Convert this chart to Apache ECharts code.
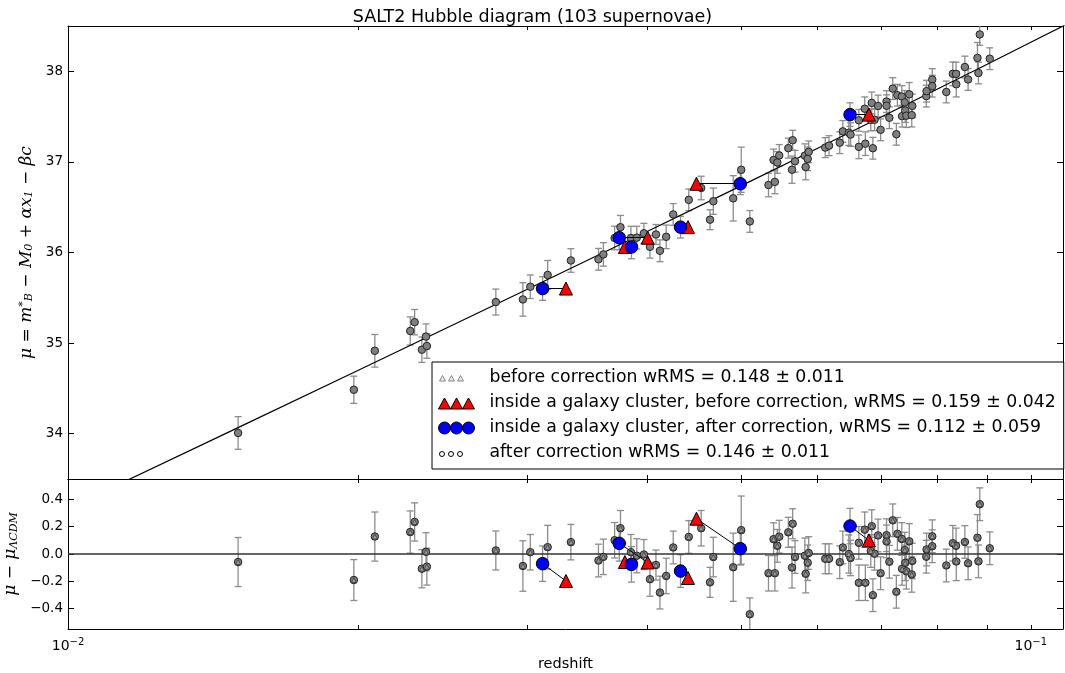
<!DOCTYPE html>
<html>
<head>
<meta charset="utf-8">
<script src="https://cdn.jsdelivr.net/npm/echarts@6/dist/echarts.min.js"></script>
<style>html,body{margin:0;padding:0;background:#fff}#c{width:1065px;height:673px}</style>
</head>
<body>
<div id="c"></div>
<script>
// ---------- data ----------
const titleText = 'SALT2 Hubble diagram (103 supernovae)';
const nameBefore = 'before correction wRMS = 0.148 \u00b1 0.011';
const nameClBefore = 'inside a galaxy cluster, before correction, wRMS = 0.159 \u00b1 0.042';
const nameClAfter = 'inside a galaxy cluster, after correction, wRMS = 0.112 \u00b1 0.059';
const nameAfter = 'after correction wRMS = 0.146 \u00b1 0.011';

// field supernovae: redshift, distance modulus, residual, error
const snZ = [0.01502,0.01981,0.02083,0.02267,0.02291,0.02331,0.02354,0.02359,0.02782,0.02968,0.03021,0.03149,0.03329,0.03556,0.03598,0.03696,0.03748,0.03843,0.03897,0.03964,0.04022,0.0408,0.04119,0.04181,0.04252,0.04413,0.04546,0.04643,0.0468,0.04908,0.05003,0.05107,0.0534,0.05405,0.05422,0.05454,0.05479,0.05599,0.05649,0.05658,0.0569,0.05825,0.05837,0.05865,0.05879,0.06116,0.06172,0.06332,0.06379,0.06471,0.06498,0.06628,0.06628,0.06722,0.06732,0.0682,0.06836,0.06854,0.06882,0.0694,0.06982,0.07082,0.07082,0.0713,0.07188,0.0725,0.07268,0.07345,0.0735,0.07397,0.07406,0.07426,0.07477,0.07522,0.07531,0.07788,0.07793,0.079,0.079,0.0817,0.08298,0.08367,0.08363,0.08541,0.08607,0.08802,0.08823,0.08851,0.09065];
const snMu = [34.008,34.485,34.915,35.134,35.231,34.927,35.072,34.968,35.453,35.482,35.622,35.752,35.912,35.925,35.979,36.160,36.279,36.159,36.164,36.212,36.063,36.199,36.019,36.173,36.420,36.581,36.712,36.362,36.566,36.598,36.913,36.343,36.745,37.021,36.779,36.994,37.071,37.152,36.914,37.239,37.007,37.069,36.943,37.034,37.111,37.158,37.179,37.212,37.337,37.322,37.302,37.459,37.166,37.587,37.201,37.464,37.651,37.151,37.465,37.617,37.354,37.666,37.620,37.487,37.809,37.305,37.736,37.721,37.505,37.657,37.566,37.510,37.746,37.516,37.618,37.726,37.781,37.909,37.836,37.772,37.972,37.857,37.971,38.047,37.910,38.148,37.981,38.407,38.139];
const snRes = [-0.059,-0.191,0.128,0.161,0.235,-0.108,0.016,-0.093,0.026,-0.088,0.013,0.050,0.087,-0.048,-0.021,0.101,0.189,0.013,-0.013,-0.004,-0.185,-0.081,-0.283,-0.161,0.048,0.125,0.189,-0.208,-0.022,-0.097,0.175,-0.442,-0.141,0.109,-0.141,0.060,0.127,0.159,-0.099,0.222,-0.022,-0.013,-0.145,-0.064,0.007,-0.035,-0.035,-0.060,0.048,0.000,-0.029,0.082,-0.211,0.178,-0.211,0.022,0.204,-0.302,0.002,0.136,-0.141,0.138,0.092,-0.057,0.247,-0.277,0.148,0.110,-0.109,0.029,-0.065,-0.127,0.093,-0.150,-0.051,-0.020,0.033,0.130,0.057,-0.084,0.079,-0.055,0.060,0.088,-0.068,0.119,-0.054,0.365,0.042];
const snErr = [0.18,0.15,0.18,0.155,0.14,0.14,0.14,0.135,0.143,0.185,0.13,0.16,0.13,0.12,0.13,0.13,0.13,0.13,0.125,0.11,0.125,0.11,0.12,0.13,0.12,0.12,0.13,0.11,0.145,0.25,0.25,0.12,0.13,0.12,0.13,0.12,0.12,0.11,0.15,0.11,0.12,0.13,0.14,0.13,0.12,0.11,0.11,0.12,0.12,0.14,0.13,0.12,0.13,0.13,0.13,0.12,0.12,0.12,0.12,0.12,0.12,0.12,0.12,0.12,0.12,0.12,0.12,0.12,0.12,0.13,0.13,0.13,0.13,0.13,0.13,0.12,0.12,0.12,0.12,0.12,0.13,0.14,0.13,0.12,0.12,0.17,0.12,0.12,0.12];

// supernovae inside galaxy clusters (before = SN redshift, after = cluster redshift)
const clZBefore = [0.0329,0.0400,0.03788,0.04405,0.04495,0.06789];
const clZAfter = [0.03111,0.03737,0.03848,0.04327,0.04992,0.0649];
const clMu = [35.602,36.163,36.061,36.280,36.759,37.522];
const clResBefore = [-0.198,-0.062,-0.059,-0.176,0.259,0.100];
const clResAfter = [-0.071,0.078,-0.076,-0.125,0.039,0.205];
const clErr = [0.13,0.13,0.13,0.12,0.12,0.13];

// LambdaCDM model curve
const modelZ = [0.01,0.015,0.02,0.03,0.04,0.05,0.06,0.07,0.08,0.09,0.1,0.11];
const modelMu = [33.175,34.064,34.697,35.594,36.235,36.735,37.148,37.498,37.804,38.076,38.320,38.542];
const zeroLineZ = [0.01,0.108];
const zeroLineRes = [0,0];

// ticks
const xTickValues = [0.01,0.02,0.03,0.04,0.05,0.06,0.07,0.08,0.09,0.1];
const xLabelValues = [0.01,0.1];
const yTopTicks = [34,35,36,37,38];
const yBotTicks = [-0.4,-0.2,0,0.2,0.4];

// ---------- chart ----------
const FONT = 'DejaVu Sans';
const chart = echarts.init(document.getElementById('c'), null, {renderer:'canvas'});

function errRender(params, api){
  const x = api.value(0), y = api.value(1), e = api.value(2);
  const p1 = api.coord([x, y - e]);
  const p2 = api.coord([x, y + e]);
  const w = 3.5;
  const st = {stroke:'#8c8c8c', lineWidth:1.3};
  return {type:'group', children:[
    {type:'line', shape:{x1:p1[0],y1:p1[1],x2:p2[0],y2:p2[1]}, style:st},
    {type:'line', shape:{x1:p1[0]-w,y1:p1[1],x2:p1[0]+w,y2:p1[1]}, style:st},
    {type:'line', shape:{x1:p2[0]-w,y1:p2[1],x2:p2[0]+w,y2:p2[1]}, style:st}
  ]};
}

function xAxisDef(grid, pos, labels){
  return {
    type:'log', logBase:10, gridIndex:grid, position:pos, min:0.01, max:0.108,
    axisLine:{show:true, onZero:false, lineStyle:{color:'#000', width:1}},
    axisTick:{show:true, inside:true, length:4, customValues:xTickValues, lineStyle:{color:'#000'}},
    splitLine:{show:false}, minorTick:{show:false},
    axisLabel: labels ? {
      show:true, customValues:xLabelValues, margin:8, color:'#000', fontFamily:FONT, fontSize:14,
      formatter: v => '{b|10}{s|' + String(Math.round(Math.log10(v))).replace('-', '\u2212') + '}',
      rich:{b:{fontSize:14, fontFamily:FONT, color:'#000'}, s:{fontSize:10, fontFamily:FONT, color:'#000', verticalAlign:'top', padding:[0,0,8,0]}}
    } : {show:false},
    name: labels ? 'redshift' : '', nameLocation:'middle', nameGap:28,
    nameTextStyle:{fontFamily:FONT, fontSize:14.5, color:'#000'}
  };
}
function yAxisDef(grid, pos, min, max, ticks, labels, fmt){
  return {
    type:'value', gridIndex:grid, position:pos, min:min, max:max,
    axisLine:{show:true, onZero:false, lineStyle:{color:'#000', width:1}},
    axisTick:{show:true, inside:true, length:6, customValues:ticks, lineStyle:{color:'#000'}},
    splitLine:{show:false},
    axisLabel: labels ? {show:true, customValues:ticks, margin:5, color:'#000', fontFamily:FONT, fontSize:13.5, formatter:fmt} : {show:false}
  };
}

const greyItem = {color:'#7f7f7f', borderColor:'#222', borderWidth:1, opacity:1};

const option = {
  backgroundColor:'#fff',
  animation:false,
  title:{text:titleText, left:'center', top:3, textStyle:{fontFamily:FONT, fontSize:17.5, fontWeight:'normal', color:'#000'}},
  grid:[
    {left:68, right:2, top:26, height:453, outerBoundsMode:'none', containLabel:false},
    {left:68, right:2, top:479, height:150, outerBoundsMode:'none', containLabel:false}
  ],
  xAxis:[xAxisDef(0,'bottom',false), xAxisDef(0,'top',false), xAxisDef(1,'bottom',true), xAxisDef(1,'top',false)],
  yAxis:[
    Object.assign(yAxisDef(0,'left',33.5,38.5,yTopTicks,true, v => String(Math.round(v))), {
      name:'{i|\u03bc = m}{sp|*}{sb|B}{i| \u2212 M}{sb|0}{i| + \u03b1x}{sb|1}{i| \u2212 \u03b2c}',
      nameLocation:'middle', nameGap:32, nameRotate:90,
      nameTextStyle:{fontFamily:'DejaVu Serif', fontSize:17, color:'#000', rich:{
        i:{fontFamily:'DejaVu Serif', fontStyle:'italic', fontSize:17, color:'#000'},
        sp:{fontFamily:'DejaVu Serif', fontStyle:'italic', fontSize:11, color:'#000', verticalAlign:'top'},
        sb:{fontFamily:'DejaVu Serif', fontStyle:'italic', fontSize:11, color:'#000', verticalAlign:'bottom'}
      }}
    }),
    yAxisDef(0,'right',33.5,38.5,yTopTicks,false),
    Object.assign(yAxisDef(1,'left',-0.55,0.55,yBotTicks,true, v => (v < 0 ? '\u2212' : '') + Math.abs(v).toFixed(1)), {
      name:'{i|\u03bc \u2212 \u03bc}{sb|\u039bCDM}',
      nameLocation:'middle', nameGap:32, nameRotate:90,
      nameTextStyle:{fontFamily:'DejaVu Serif', fontSize:17, color:'#000', rich:{
        i:{fontFamily:'DejaVu Serif', fontStyle:'italic', fontSize:17, color:'#000'},
        sb:{fontFamily:'DejaVu Serif', fontStyle:'italic', fontSize:11, color:'#000', verticalAlign:'bottom'}
      }}
    }),
    yAxisDef(1,'right',-0.55,0.55,yBotTicks,false)
  ],
  legend:{
    show:true, orient:'vertical', left:432, top:362,
    padding:[6,8,6,5], itemGap:5, itemWidth:47, itemHeight:16,
    backgroundColor:'#fff', borderColor:'#000', borderWidth:1, borderRadius:0,
    textStyle:{fontFamily:FONT, fontSize:17.3, lineHeight:20, color:'#000'},
    selectedMode:false,
    data:[
      {name:nameBefore, icon:'path://M0,0 M47,16 M2,11 L5,5.5 L8,11 Z M11,11 L14,5.5 L17,11 Z M20,11 L23,5.5 L26,11 Z',
        itemStyle:{color:'#e8e8e8', borderColor:'#888', borderWidth:1}},
      {name:nameClBefore, icon:'path://M0,0 M47,16 M1,14 L7,3 L13,14 Z M13,14 L19,3 L25,14 Z M25,14 L31,3 L37,14 Z',
        itemStyle:{color:'#ff0000', borderColor:'#000', borderWidth:1}},
      {name:nameClAfter, icon:'path://M0,0 M47,16 M1,8 A6,6 0 1 1 13,8 A6,6 0 1 1 1,8 Z M13,8 A6,6 0 1 1 25,8 A6,6 0 1 1 13,8 Z M25,8 A6,6 0 1 1 37,8 A6,6 0 1 1 25,8 Z',
        itemStyle:{color:'#0000ff', borderColor:'#000', borderWidth:1}},
      {name:nameAfter, icon:'path://M0,0 M47,16 M2,9 A2.5,2.5 0 1 1 7,9 A2.5,2.5 0 1 1 2,9 Z M11,9 A2.5,2.5 0 1 1 16,9 A2.5,2.5 0 1 1 11,9 Z M20,9 A2.5,2.5 0 1 1 25,9 A2.5,2.5 0 1 1 20,9 Z',
        itemStyle:{color:'#fff', borderColor:'#000', borderWidth:1}}
    ]
  },
  series:[
    // error bars
    {type:'custom', name:'err-top', xAxisIndex:0, yAxisIndex:0, clip:true, z:1, silent:true,
      renderItem:errRender, encode:{x:0,y:1},
      data: snZ.map((z,i)=>[z, snMu[i], snErr[i]]).concat(clZAfter.map((z,i)=>[z, clMu[i], clErr[i]]))},
    {type:'custom', name:'err-bot', xAxisIndex:2, yAxisIndex:2, clip:true, z:1, silent:true,
      renderItem:errRender, encode:{x:0,y:1},
      data: snZ.map((z,i)=>[z, snRes[i], snErr[i]]).concat(clZAfter.map((z,i)=>[z, clResAfter[i], clErr[i]]))},
    // model and zero line
    {type:'line', name:'model', xAxisIndex:0, yAxisIndex:0, z:2, symbol:'none', smooth:false, clip:true, silent:true,
      lineStyle:{color:'#000', width:1.2}, data: modelZ.map((z,i)=>[z, modelMu[i]])},
    {type:'line', name:'zero', xAxisIndex:2, yAxisIndex:2, z:2, symbol:'none', clip:true, silent:true,
      lineStyle:{color:'#333', width:1.5}, data: zeroLineZ.map((z,i)=>[z, zeroLineRes[i]])},
    // after correction (grey circles)
    {type:'scatter', name:nameAfter, xAxisIndex:0, yAxisIndex:0, z:3, symbol:'circle', symbolSize:7.5,
      itemStyle:greyItem, data: snZ.map((z,i)=>[z, snMu[i]])},
    {type:'scatter', name:nameAfter, xAxisIndex:2, yAxisIndex:2, z:3, symbol:'circle', symbolSize:7.5,
      itemStyle:greyItem, data: snZ.map((z,i)=>[z, snRes[i]])},
    // before correction (small grey triangles)
    {type:'scatter', name:nameBefore, xAxisIndex:2, yAxisIndex:2, z:4, symbol:'triangle', symbolSize:5,
      itemStyle:{color:'#9a9a9a', borderColor:'#333', borderWidth:0.7, opacity:1}, data: snZ.map((z,i)=>[z, snRes[i]])},
    // arrows
    {type:'lines', name:'arrow-top', coordinateSystem:'cartesian2d', xAxisIndex:0, yAxisIndex:0, z:5, silent:true,
      symbol:['none','arrow'], symbolSize:6, lineStyle:{color:'#000', width:1, opacity:1},
      data: clZBefore.map((z,i)=>({coords:[[z, clMu[i]],[clZAfter[i], clMu[i]]]}))},
    {type:'lines', name:'arrow-bot', coordinateSystem:'cartesian2d', xAxisIndex:2, yAxisIndex:2, z:5, silent:true,
      symbol:['none','arrow'], symbolSize:6, lineStyle:{color:'#000', width:1, opacity:1},
      data: clZBefore.map((z,i)=>({coords:[[z, clResBefore[i]],[clZAfter[i], clResAfter[i]]]}))},
    // cluster SNe before (red triangles)
    {type:'scatter', name:nameClBefore, xAxisIndex:0, yAxisIndex:0, z:6, symbol:'triangle', symbolSize:13,
      itemStyle:{color:'#ff0000', borderColor:'#000', borderWidth:1, opacity:1}, data: clZBefore.map((z,i)=>[z, clMu[i]])},
    {type:'scatter', name:nameClBefore, xAxisIndex:2, yAxisIndex:2, z:6, symbol:'triangle', symbolSize:13,
      itemStyle:{color:'#ff0000', borderColor:'#000', borderWidth:1, opacity:1}, data: clZBefore.map((z,i)=>[z, clResBefore[i]])},
    // cluster SNe after (blue circles)
    {type:'scatter', name:nameClAfter, xAxisIndex:0, yAxisIndex:0, z:7, symbol:'circle', symbolSize:12.5,
      itemStyle:{color:'#0000ff', borderColor:'#000', borderWidth:1, opacity:1}, data: clZAfter.map((z,i)=>[z, clMu[i]])},
    {type:'scatter', name:nameClAfter, xAxisIndex:2, yAxisIndex:2, z:7, symbol:'circle', symbolSize:12.5,
      itemStyle:{color:'#0000ff', borderColor:'#000', borderWidth:1, opacity:1}, data: clZAfter.map((z,i)=>[z, clResAfter[i]])}
  ]
};
chart.setOption(option);
</script>
</body>
</html>
